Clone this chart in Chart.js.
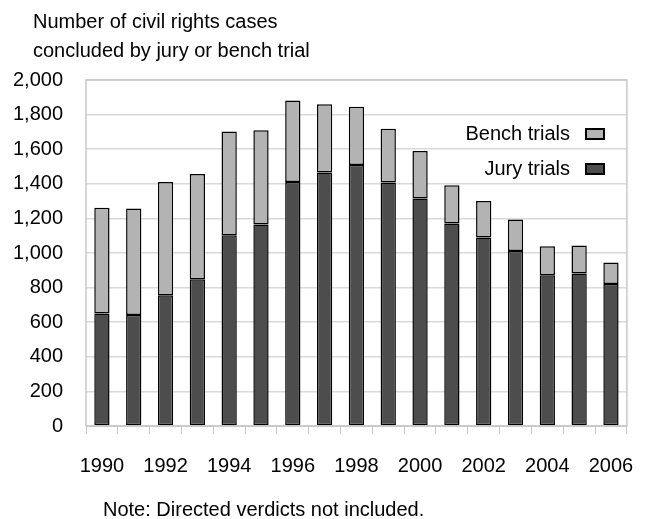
<!DOCTYPE html>
<html>
<head>
<meta charset="utf-8">
<script src="https://cdn.jsdelivr.net/npm/chart.js@4/dist/chart.umd.min.js"></script>
<style>
  body { margin: 0; background: #fff; }
  #wrap { position: relative; width: 654px; height: 519px; font-family: "Liberation Sans", Arial, sans-serif; color: #000; overflow: hidden; }
  #grafico { position: absolute; left: 0; top: 0; }
  .txt { position: absolute; font-size: 20px; line-height: 23px; white-space: nowrap; }
</style>
</head>
<body>
<div id="wrap">
  <canvas id="grafico" width="654" height="519"></canvas>
  <div class="txt" style="left:33px; top:10px;">Number of civil rights cases</div>
  <div class="txt" style="left:33px; top:39px;">concluded by jury or bench trial</div>
  <div class="txt" style="left:103px; top:498px;">Note: Directed verdicts not included.</div>
</div>
<script>
// dados
const anos = ['1990','1991','1992','1993','1994','1995','1996','1997','1998','1999','2000','2001','2002','2003','2004','2005','2006'];
const juri = [650, 642, 756, 848, 1103, 1165, 1411, 1465, 1508, 1408, 1315, 1170, 1090, 1012, 872, 881, 821];
const bancada = [611, 615, 655, 609, 600, 545, 471, 395, 337, 310, 275, 222, 211, 182, 167, 162, 124];
const rotulosY = [0, 200, 400, 600, 800, 1000, 1200, 1400, 1600, 1800, 2000];

const fonte = { family: '"Liberation Sans", Arial, sans-serif', size: 20 };

// legenda e moldura desenhadas à mão
const extras = {
  id: 'extras',
  afterDraw(chart) {
    const c = chart.ctx;
    const a = chart.chartArea;
    c.save();
    c.strokeStyle = '#c8c8c8';
    c.lineWidth = 1.5;
    c.strokeRect(a.left, a.top, a.right - a.left, a.bottom - a.top);
    const itens = [['Bench trials', '#b3b3b3', 134], ['Jury trials', '#4d4d4d', 169]];
    c.font = '20px "Liberation Sans", Arial, sans-serif';
    c.textAlign = 'right';
    c.textBaseline = 'middle';
    itens.forEach(([txt, cor, y]) => {
      c.fillStyle = '#000';
      c.fillText(txt, 570, y);
      c.fillStyle = cor;
      c.fillRect(586, y - 5, 18, 10);
      c.strokeStyle = '#000';
      c.lineWidth = 2;
      c.strokeRect(586, y - 5, 18, 10);
    });
    c.restore();
  }
};

const ctx = document.getElementById('grafico').getContext('2d');
const meuGrafico = new Chart(ctx, {
  type: 'bar',
  data: {
    labels: anos,
    datasets: [{
      label: 'Jury trials',
      data: juri,
      backgroundColor: '#4d4d4d',
      borderColor: '#000',
      borderWidth: 1.5,
      borderSkipped: false
    }, {
      label: 'Bench trials',
      data: bancada,
      backgroundColor: '#b3b3b3',
      borderColor: '#000',
      borderWidth: 1.5,
      borderSkipped: false
    }]
  },
  options: {
    responsive: false,
    animation: false,
    layout: { padding: { left: 0, top: 80, right: 27, bottom: 0 } },
    plugins: { legend: { display: false }, tooltip: { enabled: false } },
    datasets: { bar: { categoryPercentage: 1, barPercentage: 0.48 } },
    scales: {
      x: {
        stacked: true,
        grid: { offset: true, drawOnChartArea: false, drawTicks: true, tickLength: 8, color: '#c8c8c8' },
        border: { color: '#c8c8c8' },
        ticks: {
          color: '#000', font: fonte, maxRotation: 0, autoSkip: false, padding: 20,
          callback: (v, i) => (i % 2 === 0 ? anos[i] : '')
        },
        afterFit: s => { s.height = 93; }
      },
      y: {
        stacked: true,
        min: 0, max: 2000,
        afterBuildTicks: s => { s.ticks = rotulosY.map(v => ({ value: v })); },
        grid: { color: '#d9d9d9', lineWidth: 1.5, drawTicks: false },
        border: { display: false },
        ticks: {
          color: '#000', font: fonte, padding: 23,
          callback: v => v.toLocaleString('en-US')
        },
        afterFit: s => { s.width = 86; }
      }
    }
  },
  plugins: [extras]
});
</script>
</body>
</html>
